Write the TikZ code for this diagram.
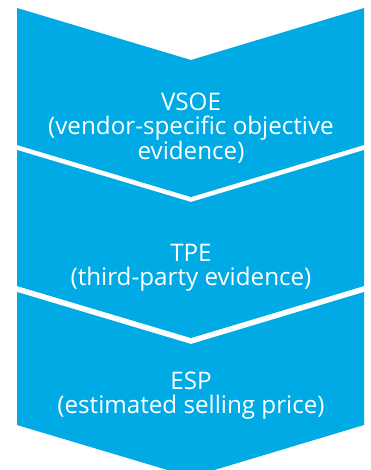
\documentclass[tikz,border=0pt]{standalone}
\usepackage{fontspec}
\setsansfont{Open Sans}
\usetikzlibrary{positioning}
\definecolor{chevblue}{RGB}{0,170,228}

\begin{document}
\begin{tikzpicture}[x=1pt,y=-1pt,
    chev/.style={fill=chevblue,draw=none},
    chevtext/.style={text=white,inner sep=0pt,align=center,
      font=\sffamily\fontsize{24.2}{24}\selectfont}]
  \useasboundingbox (0,0) rectangle (370,470);
  \clip (0,0) rectangle (370,470);

  % Draw chevrons
  \fill[chev] (17,8) -- (191,60) -- (364,8) -- (364,145) -- (191,197) -- (17,145) -- cycle;
  \fill[chev] (17,150) -- (191,202) -- (364,150) -- (364,286) -- (191,338) -- (17,286) -- cycle;
  \fill[chev] (17,292) -- (191,344) -- (364,292) -- (364,425) -- (191,477) -- (17,425) -- cycle;

  % Label chevrons
  \node[chevtext] (vsoe) at (191,128) {VSOE\\(vendor-specific objective\\evidence)};
  \node[chevtext] (tpe) at (191,268) {TPE\\(third-party evidence)};
  \node[chevtext] (esp) at (191,396) {ESP\\(estimated selling price)};
\end{tikzpicture}
\end{document}
